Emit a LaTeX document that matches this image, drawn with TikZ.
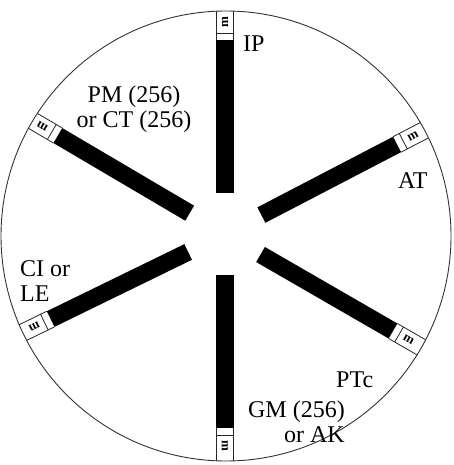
\documentclass[tikz,border=0pt]{standalone}
\usepackage{fontspec}
\setmainfont{Liberation Serif}
\tikzset{
  lab/.style={font=\fontsize{24}{25}\selectfont, inner sep=0pt},
  rim/.style={draw=black!80, line width=0.9pt},
  barbody/.style={fill=black},
  capline/.style={draw=black!85, line width=0.8pt},
  mk/.style={font=\fontsize{13}{13}\selectfont\bfseries, inner sep=0pt}
}
\begin{document}
\begin{tikzpicture}[x=1pt, y=-1pt]
\useasboundingbox (0,0) rectangle (453,465);
\coordinate (c) at (225,234);
\coordinate (o) at (226,236);
% bars
\foreach \a/\n in {90/ip, 27.5/at, -30/ptc, -90/gm, 206/ci, 149.5/pm}{
  \begin{scope}[shift={(c)}, rotate=\a]
    \fill[barbody] (41,-8.7) rectangle (194,8.7);
    \node[mk, rotate=\a] (m\n) at (212,0) {m};
  \end{scope}
  \begin{scope}
    \clip (o) circle [radius=225pt];
    \begin{scope}[shift={(c)}, rotate=\a]
      \draw[capline] (194,-8.7) -- (240,-8.7) (194,8.7) -- (240,8.7)
                     (201,-8.7) -- (201,8.7);
    \end{scope}
  \end{scope}
}
\draw[rim] (o) circle [radius=225pt];
% labels (base anchor = baseline of last line)
\node[lab, anchor=base west] (IP) at (243,52) {IP};
\node[lab, anchor=base, align=center] (PM) at (134,128) {PM (256)\\or CT (256)};
\node[lab, anchor=base west] (AT) at (398,188) {AT};
\node[lab, anchor=base west, align=left] (CI) at (20,301) {CI or\\LE};
\node[lab, anchor=base west] (PTc) at (336,387) {PTc};
\node[lab, anchor=base east, align=right] (GM) at (345,442) {GM (256)\\or AK};
\end{tikzpicture}
\end{document}
